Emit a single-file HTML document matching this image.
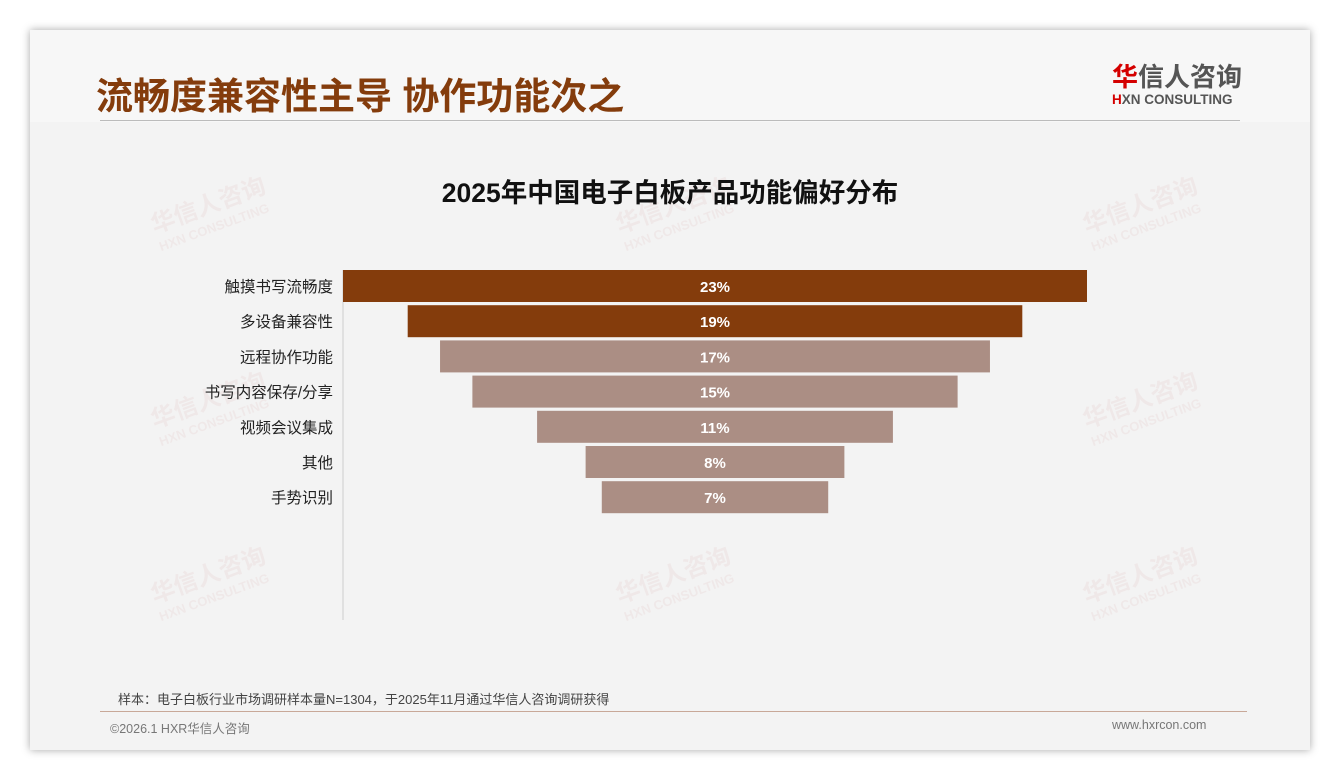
<!DOCTYPE html>
<html><head><meta charset="utf-8"><style>
*{margin:0;padding:0;box-sizing:border-box}
body{width:1340px;height:780px;background:#fff;position:relative;overflow:hidden;font-family:"Liberation Sans","Noto Sans CJK SC",sans-serif}
.card{position:absolute;left:30px;top:30px;width:1280px;height:720px;background:#f3f3f3;box-shadow:0 0 8px rgba(0,0,0,.35)}
.abs{position:absolute}
.wm{position:absolute;color:#eadada;transform:rotate(-20deg);font-weight:bold;opacity:.4}
</style></head><body>
<div class="card">
 <div class="abs" style="left:0;top:0;width:1280px;height:92px;background:#f7f7f7"></div>
</div>
<div class="abs" style="left:96px;top:66px;font-size:37px;font-weight:bold;color:#843c0c;white-space:nowrap">流畅度兼容性主导 协作功能次之</div>
<div class="abs" style="left:1112px;top:62px;width:140px;white-space:nowrap">
 <div style="font-size:26px;font-weight:bold;color:#555;line-height:30px"><span style="color:#d40000">华</span>信人咨询</div>
 <div style="font-size:13.5px;font-weight:bold;color:#555;line-height:15px"><span style="color:#d40000">H</span>XN CONSULTING</div>
</div>
<div class="abs" style="left:100px;top:120px;width:1140px;height:1px;background:#bbb"></div>
<div class="wm" style="left:150px;top:185px;font-size:24px">华信人咨询<div style="font-size:13px">HXN CONSULTING</div></div>
<div class="wm" style="left:615px;top:185px;font-size:24px">华信人咨询<div style="font-size:13px">HXN CONSULTING</div></div>
<div class="wm" style="left:1082px;top:185px;font-size:24px">华信人咨询<div style="font-size:13px">HXN CONSULTING</div></div>
<div class="wm" style="left:150px;top:380px;font-size:24px">华信人咨询<div style="font-size:13px">HXN CONSULTING</div></div>
<div class="wm" style="left:1082px;top:380px;font-size:24px">华信人咨询<div style="font-size:13px">HXN CONSULTING</div></div>
<div class="wm" style="left:150px;top:555px;font-size:24px">华信人咨询<div style="font-size:13px">HXN CONSULTING</div></div>
<div class="wm" style="left:615px;top:555px;font-size:24px">华信人咨询<div style="font-size:13px">HXN CONSULTING</div></div>
<div class="wm" style="left:1082px;top:555px;font-size:24px">华信人咨询<div style="font-size:13px">HXN CONSULTING</div></div>
<div class="abs" style="left:0;width:1340px;top:171px;text-align:center;font-size:26.5px;font-weight:bold;color:#111">2025年中国电子白板产品功能偏好分布</div>
<svg id="chart" class="abs" style="left:0;top:0" width="1340" height="780"></svg>
<div class="abs" style="left:118px;top:689px;font-size:13px;color:#444;white-space:nowrap">样本：电子白板行业市场调研样本量N=1304，于2025年11月通过华信人咨询调研获得</div>
<div class="abs" style="left:100px;top:711px;width:1147px;height:1px;background:#c8a898"></div>
<div class="abs" style="left:110px;top:718px;font-size:12.5px;color:#777">©2026.1 HXR华信人咨询</div>
<div class="abs" style="left:1112px;top:718px;font-size:12.5px;color:#777">www.hxrcon.com</div>
<script>
const categories=["触摸书写流畅度","多设备兼容性","远程协作功能","书写内容保存/分享","视频会议集成","其他","手势识别"];
const values=[23,19,17,15,11,8,7];
const valueLabels=["23%","19%","17%","15%","11%","8%","7%"];
const highlight=[true,true,false,false,false,false,false];
const svg=document.getElementById('chart');
const NS='http://www.w3.org/2000/svg';
const cx=715,pxPer=744/23,top0=270,step=35.2,bh=32;
const wScale=v=>v*pxPer;
const yScale=i=>top0+i*step;
const ax=document.createElementNS(NS,'line');


ax.setAttribute('x1',343);ax.setAttribute('x2',343);ax.setAttribute('y1',270);ax.setAttribute('y2',620);
ax.setAttribute('stroke','#ccc');ax.setAttribute('stroke-width',1);
svg.appendChild(ax);
categories.forEach((c,i)=>{
 const w=wScale(values[i]),y=yScale(i);
 const r=document.createElementNS(NS,'rect');
 
 
 r.setAttribute('x',cx-w/2);r.setAttribute('y',y);r.setAttribute('width',w);r.setAttribute('height',bh);
 r.setAttribute('fill',highlight[i]?'#843c0c':'#ab8e84');
 svg.appendChild(r);
 const t=document.createElementNS(NS,'text');
 
 
 t.setAttribute('x',cx);t.setAttribute('y',y+bh/2+6);t.setAttribute('text-anchor','middle');
 t.setAttribute('fill','#fff');t.setAttribute('font-size','15');t.setAttribute('font-weight','bold');
 t.textContent=valueLabels[i];svg.appendChild(t);
 const l=document.createElementNS(NS,'text');
 
 
 l.setAttribute('x',333);l.setAttribute('y',y+bh/2+6);l.setAttribute('text-anchor','end');
 l.setAttribute('fill','#222');l.setAttribute('font-size','15.5');
 l.textContent=c;svg.appendChild(l);
});
</script>
</body></html>
